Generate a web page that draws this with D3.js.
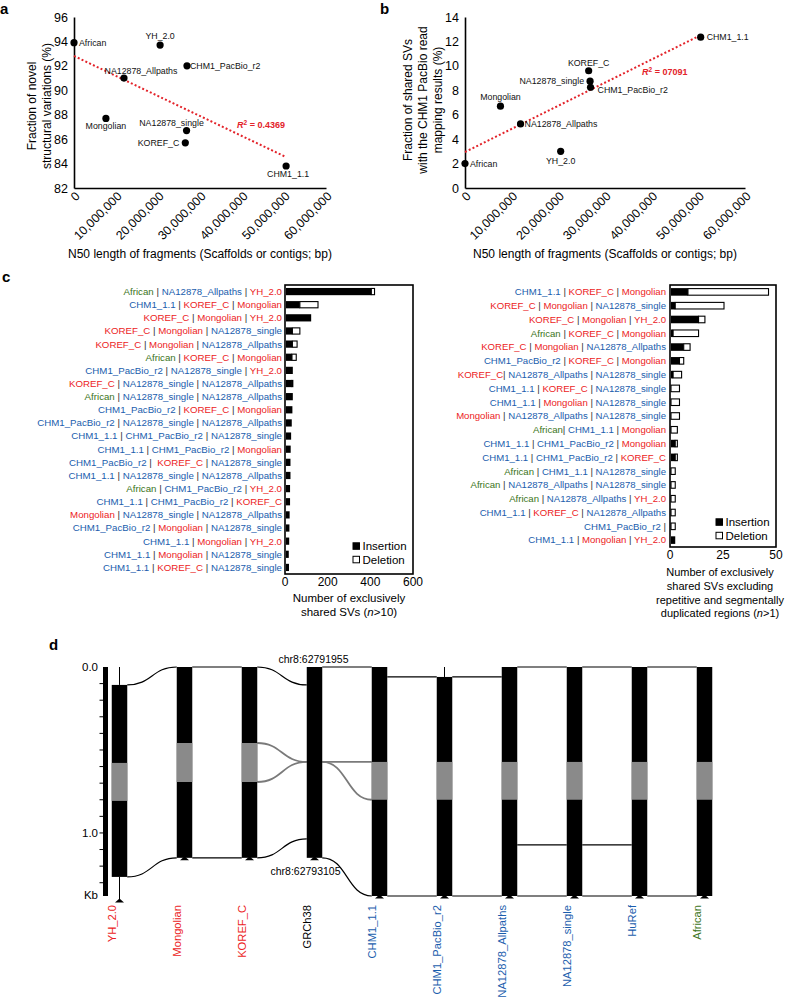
<!DOCTYPE html>
<html><head><meta charset="utf-8">
<script src="https://cdn.jsdelivr.net/npm/d3@7"></script>
<style>
body{margin:0;background:#fff;}
svg{font-family:"Liberation Sans",Arial,Helvetica,sans-serif;}
text{white-space:pre;}
</style></head><body>
<svg id="fig" width="788" height="999"></svg>
<script>
// ---------------- DATA ----------------
// panels a & b
const assemblies = ["African","YH_2.0","CHM1_PacBio_r2","NA12878_Allpaths","Mongolian","NA12878_single","KOREF_C","CHM1_1.1"];
const n50Length = [0, 20.5e6, 26.9e6, 11.9e6, 7.6e6, 26.8e6, 26.5e6, 50.5e6];
const novelSVFraction = [93.9, 93.7, 92.0, 91.0, 87.7, 86.7, 85.7, 83.8];
const sharedSVFraction = [2.0, 3.0, 8.25, 5.25, 6.7, 8.75, 9.6, 12.35];
const n50Ticks = [0, 1e7, 2e7, 3e7, 4e7, 5e7, 6e7];
const novelTicks = [82, 84, 86, 88, 90, 92, 94, 96];
const sharedTicks = [0, 2, 4, 6, 8, 10, 12, 14];
const r2TextA = "0.4369";
const r2TextB = "07091";

// panel c (left)
const combosAll = [
 "African | NA12878_Allpaths | YH_2.0",
 "CHM1_1.1 | KOREF_C | Mongolian",
 "KOREF_C | Mongolian | YH_2.0",
 "KOREF_C | Mongolian | NA12878_single",
 "KOREF_C | Mongolian | NA12878_Allpaths",
 "African | KOREF_C | Mongolian",
 "CHM1_PacBio_r2 | NA12878_single | YH_2.0",
 "KOREF_C | NA12878_single | NA12878_Allpaths",
 "African | NA12878_single | NA12878_Allpaths",
 "CHM1_PacBio_r2 | KOREF_C | Mongolian",
 "CHM1_PacBio_r2 | NA12878_single | NA12878_Allpaths",
 "CHM1_1.1 | CHM1_PacBio_r2 | NA12878_single",
 "CHM1_1.1 | CHM1_PacBio_r2 | Mongolian",
 "CHM1_PacBio_r2 |  KOREF_C | NA12878_single",
 "CHM1_1.1 | NA12878_single | NA12878_Allpaths",
 "African | CHM1_PacBio_r2 | YH_2.0",
 "CHM1_1.1 | CHM1_PacBio_r2 | KOREF_C",
 "Mongolian | NA12878_single | NA12878_Allpaths",
 "CHM1_PacBio_r2 | Mongolian | NA12878_single",
 "CHM1_1.1 | Mongolian | YH_2.0",
 "CHM1_1.1 | Mongolian | NA12878_single",
 "CHM1_1.1 | KOREF_C | NA12878_single"
];
const insAll = [400, 65, 118, 30, 30, 28, 32, 28, 32, 30, 27, 24, 22, 21, 21, 19, 19, 17, 16, 15, 13, 14];
const delAll = [15, 85, 0, 35, 22, 20, 0, 4, 0, 0, 0, 0, 0, 0, 0, 0, 0, 0, 0, 0, 0, 0];
const ticksAll = [0, 200, 400, 600];

// panel c (right)
const combosUnique = [
 "CHM1_1.1 | KOREF_C | Mongolian",
 "KOREF_C | Mongolian | NA12878_single",
 "KOREF_C | Mongolian | YH_2.0",
 "African | KOREF_C | Mongolian",
 "KOREF_C | Mongolian | NA12878_Allpaths",
 "CHM1_PacBio_r2 | KOREF_C | Mongolian",
 "KOREF_C| NA12878_Allpaths | NA12878_single",
 "CHM1_1.1 | KOREF_C | NA12878_single",
 "CHM1_1.1 | Mongolian | NA12878_single",
 "Mongolian | NA12878_Allpaths | NA12878_single",
 "African| CHM1_1.1 | Mongolian",
 "CHM1_1.1 | CHM1_PacBio_r2 | Mongolian",
 "CHM1_1.1 | CHM1_PacBio_r2 | KOREF_C",
 "African | CHM1_1.1 | NA12878_single",
 "African | NA12878_Allpaths | NA12878_single",
 "African | NA12878_Allpaths | YH_2.0",
 "CHM1_1.1 | KOREF_C | NA12878_Allpaths",
 "CHM1_PacBio_r2 |",
 "CHM1_1.1 | Mongolian | YH_2.0"
];
const insUnique = [8, 2, 13, 1, 6, 4, 1, 0, 0, 0, 0, 2, 2, 0, 0, 0, 0, 0, 2];
const delUnique = [38, 23, 3, 12, 3, 2, 4, 4, 4, 4, 3, 1, 1, 2, 2, 2, 2, 2, 0];
const ticksUnique = [0, 25, 50];

// panel d
const tracks = ["YH_2.0","Mongolian","KOREF_C","GRCh38","CHM1_1.1","CHM1_PacBio_r2","NA12878_Allpaths","NA12878_single","HuRef","African"];
const trackStartKb = [0.108, 0, 0, 0, 0, 0.06, 0, 0, 0, 0];
const trackEndKb   = [1.265, 1.15, 1.15, 1.15, 1.38, 1.38, 1.38, 1.38, 1.38, 1.38];
const grayStartKb  = [0.578, 0.458, 0.458, null, 0.572, 0.572, 0.572, 0.572, 0.572, 0.572];
const grayEndKb    = [0.807, 0.693, 0.693, null, 0.80, 0.80, 0.80, 0.80, 0.80, 0.80];
const leadTopKb    = [0, null, null, null, null, 0, null, null, null, null];
const leadBottomKb = [1.404, null, null, null, null, null, null, null, null, null];
const linkFrom   = ["YH_2.0","Mongolian","KOREF_C","GRCh38","CHM1_1.1","CHM1_PacBio_r2","NA12878_Allpaths","NA12878_single","HuRef",
                    "KOREF_C","KOREF_C","GRCh38","GRCh38",
                    "YH_2.0","Mongolian","KOREF_C","GRCh38","CHM1_1.1","CHM1_PacBio_r2","NA12878_Allpaths","NA12878_single","HuRef",
                    "NA12878_Allpaths","NA12878_single"];
const linkFromKb = [0.108, 0, 0, 0, 0.06, 0.06, 0, 0, 0,
                    0.458, 0.693, 0.572, 0.572,
                    1.265, 1.15, 1.15, 1.15, 1.38, 1.38, 1.38, 1.38, 1.38,
                    1.072, 1.072];
const linkTo     = ["Mongolian","KOREF_C","GRCh38","CHM1_1.1","CHM1_PacBio_r2","NA12878_Allpaths","NA12878_single","HuRef","African",
                    "GRCh38","GRCh38","CHM1_1.1","CHM1_1.1",
                    "Mongolian","KOREF_C","GRCh38","CHM1_1.1","CHM1_PacBio_r2","NA12878_Allpaths","NA12878_single","HuRef","African",
                    "NA12878_single","HuRef"];
const linkToKb   = [0, 0, 0.108, 0, 0.06, 0.06, 0, 0, 0,
                    0.572, 0.572, 0.572, 0.80,
                    1.15, 1.15, 1.036, 1.38, 1.38, 1.38, 1.38, 1.38, 1.38,
                    1.072, 1.072];
const linkGray   = [0,0,0,0,0,0,0,0,0, 1,1,1,1, 0,0,0,0,0,0,0,0,0, 0,0];
const kbTicks = [0, 1.0];
const kbMinorTicks = [0.1,0.2,0.3,0.4,0.5,0.6,0.7,0.8,0.9,1.0,1.1,1.2,1.3];

// ---------------- STYLE ----------------
const FONT = "'Liberation Sans', Arial, Helvetica, sans-serif";
const RED = "#ec1c24", BLUE = "#1a5dad", GREEN = "#3b7420", TREND = "#e3232a";
const nameColor = n => {
  if (["YH_2.0","KOREF_C","Mongolian"].includes(n)) return RED;
  if (n === "African") return GREEN;
  if (n === "GRCh38") return "#000";
  return BLUE;
};

const svg = d3.select("#fig");
svg.append("rect").attr("width",788).attr("height",999).attr("fill","#fff");

function panelLetter(t, x, y){
  svg.append("text").attr("x",x).attr("y",y).attr("font-size",15).attr("font-weight","bold").text(t);
}

function linreg(xs, ys){
  const mx = d3.mean(xs), my = d3.mean(ys);
  let sxy = 0, sxx = 0;
  xs.forEach((x,i)=>{ sxy += (x-mx)*(ys[i]-my); sxx += (x-mx)*(x-mx); });
  const b = sxy/sxx; return {a: my - b*mx, b};
}

function scatter(cfg){
  const g = svg.append("g");
  const x = d3.scaleLinear().domain([0, 6e7]).range(cfg.xr);
  const y = d3.scaleLinear().domain(d3.extent(cfg.yticks)).range([188, 17]);
  const ya = g.append("g").attr("transform",`translate(${cfg.xr[0]},0)`)
    .call(d3.axisLeft(y).tickValues(cfg.yticks).tickSize(0).tickPadding(6));
  ya.attr("font-family",FONT).attr("font-size",12.5);
  ya.select(".domain").attr("stroke","#000").attr("stroke-width",1.6);
  ya.selectAll("text").attr("fill","#000");
  const xa = g.append("g").attr("transform","translate(0,188)")
    .call(d3.axisBottom(x).tickValues(n50Ticks).tickSize(0).tickFormat(d3.format(",")));
  xa.attr("font-family",FONT).attr("font-size",12.3);
  xa.select(".domain").attr("stroke","#000").attr("stroke-width",1.6);
  xa.selectAll("text").attr("x",0).attr("y",0).attr("dy",0)
    .attr("text-anchor","end").attr("fill","#000")
    .attr("transform","translate(6,9) rotate(-45)");
  // trend
  const fit = linreg(n50Length, cfg.vals);
  const xmax = d3.max(n50Length);
  g.append("path")
    .attr("d", d3.line()([[x(0), y(fit.a)], [x(xmax), y(fit.a + fit.b*xmax)]]))
    .attr("stroke",TREND).attr("stroke-width",2).attr("stroke-dasharray","2,2.2").attr("fill","none");
  // points
  g.selectAll("circle.pt").data(assemblies).join("circle")
    .attr("cx",(d,i)=>x(n50Length[i])).attr("cy",(d,i)=>y(cfg.vals[i])).attr("r",3.6).attr("fill","#000");
  g.selectAll("text.lab").data(assemblies).join("text")
    .attr("x",(d,i)=>x(n50Length[i]) + cfg.place[d][0])
    .attr("y",(d,i)=>y(cfg.vals[i]) + cfg.place[d][1])
    .attr("dy","0.35em").attr("text-anchor",d=>cfg.place[d][2])
    .attr("font-size",8.8).attr("fill","#111").text(d=>d);
  // R2
  const r = g.append("text").attr("x",cfg.r2pos[0]).attr("y",cfg.r2pos[1]).attr("dy","0.35em")
    .attr("font-size",9).attr("font-weight","bold").attr("fill",TREND);
  r.append("tspan").attr("font-style","italic").text("R");
  r.append("tspan").attr("font-size",6.5).attr("dy","-0.45em").text("2");
  r.append("tspan").attr("dy","0.3em").text(" = " + cfg.r2);
  // titles
  g.append("text").attr("x",(cfg.xr[0]+cfg.xr[1])/2).attr("y",258).attr("text-anchor","middle")
    .attr("font-size",12).text("N50 length of fragments (Scaffolds or contigs; bp)");
  cfg.ytitle.forEach((t,i)=>{
    g.append("text").attr("transform",`translate(${cfg.ytx[i]},${cfg.tyc}) rotate(-90)`)
      .attr("text-anchor","middle").attr("dy","0.35em").attr("font-size",12).text(t);
  });
}

panelLetter("a", 0, 14);
scatter({
  xr:[74, 326], yticks: novelTicks, vals: novelSVFraction, r2: r2TextA, r2pos:[237,125],
  ytitle:["Fraction of novel","structural variations (%)"], ytx:[32,47], tyc:106,
  place:{
    "African":[5,0,"start"], "YH_2.0":[0,-9,"middle"], "CHM1_PacBio_r2":[3,0,"start"],
    "NA12878_Allpaths":[17,-7,"middle"], "Mongolian":[0,8,"middle"], "NA12878_single":[-15,-8,"middle"],
    "KOREF_C":[-6,0,"end"], "CHM1_1.1":[2,8,"middle"]
  }
});
panelLetter("b", 380, 14);
scatter({
  xr:[465, 745], yticks: sharedTicks, vals: sharedSVFraction, r2: r2TextB, r2pos:[642,72],
  ytitle:["Fraction of shared SVs","with the CHM1 PacBio read","mapping results (%)"], ytx:[408,423,438], tyc:100,
  place:{
    "African":[5,0,"start"], "YH_2.0":[0,10,"middle"], "CHM1_PacBio_r2":[7,3,"start"],
    "NA12878_Allpaths":[4,0,"start"], "Mongolian":[0,-9,"middle"], "NA12878_single":[-6,0,"end"],
    "KOREF_C":[0,-8,"middle"], "CHM1_1.1":[6,0,"start"]
  }
});

// ---------------- panel c ----------------
function colouredLabel(sel, str){
  str.split(/(\|)/).forEach(p=>{
    if (p === "|") { sel.append("tspan").attr("fill","#333").text("|"); return; }
    const m = p.match(/^(\s*)(.*?)(\s*)$/);
    if (m[1]) sel.append("tspan").text(m[1]);
    if (m[2]) sel.append("tspan").attr("fill",nameColor(m[2])).text(m[2]);
    if (m[3]) sel.append("tspan").text(m[3]);
  });
}

function barPanel(cfg){
  const g = svg.append("g");
  const n = cfg.combos.length;
  const x = d3.scaleLinear().domain(d3.extent(cfg.ticks)).range(cfg.xr);
  const y = d3.scaleBand().domain(d3.range(n)).range(cfg.yr).paddingInner(0.45).paddingOuter(0.225);
  // bars
  g.selectAll("rect.ins").data(d3.range(n)).join("rect")
    .attr("x",x(0)+1).attr("y",i=>y(i)).attr("height",y.bandwidth())
    .attr("width",i=>Math.max(0,x(cfg.ins[i])-x(0))).attr("fill","#000");
  g.selectAll("rect.del").data(d3.range(n).filter(i=>cfg.del[i]>0)).join("rect")
    .attr("x",i=>x(cfg.ins[i])+1).attr("y",i=>y(i)+0.5).attr("height",y.bandwidth()-1)
    .attr("width",i=>x(cfg.ins[i]+cfg.del[i])-x(cfg.ins[i])).attr("fill","#fff").attr("stroke","#000").attr("stroke-width",1.1);
  // frame
  g.append("rect").attr("x",cfg.xr[0]).attr("y",cfg.yr[0]).attr("width",cfg.xr[1]-cfg.xr[0]).attr("height",cfg.yr[1]-cfg.yr[0])
    .attr("fill","none").attr("stroke","#000").attr("stroke-width",1.6);
  // labels
  g.selectAll("text.row").data(d3.range(n)).join("text")
    .attr("x",cfg.labelX).attr("y",i=>y(i)+y.bandwidth()/2).attr("dy","0.35em")
    .attr("text-anchor","end").attr("font-size",cfg.labelSize)
    .each(function(i){ colouredLabel(d3.select(this), cfg.combos[i]); });
  // ticks
  g.selectAll("text.tk").data(cfg.ticks).join("text")
    .attr("x",d=>x(d)).attr("y",cfg.yr[1]+3).attr("dy","0.71em").attr("text-anchor","middle")
    .attr("font-size",12).text(d=>d);
  // legend
  [["Insertion","#000"],["Deletion","#fff"]].forEach((l,k)=>{
    g.append("rect").attr("x",cfg.leg[0]).attr("y",cfg.leg[1]+k*13.5-3.2).attr("width",6.5).attr("height",6.5)
      .attr("fill",l[1]).attr("stroke","#000").attr("stroke-width",1);
    g.append("text").attr("x",cfg.leg[0]+9.5).attr("y",cfg.leg[1]+k*13.5).attr("dy","0.35em").attr("font-size",11.5).text(l[0]);
  });
  // title
  cfg.title.forEach((t,k)=>{
    const tx = g.append("text").attr("x",cfg.titleX).attr("y",cfg.titleY+k*13.8)
      .attr("text-anchor","middle").attr("font-size",cfg.titleSize);
    const m = t.match(/^(.*\()n(.*)$/);
    if (m){ tx.append("tspan").text(m[1]); tx.append("tspan").attr("font-style","italic").text("n"); tx.append("tspan").text(m[2]); }
    else tx.text(t);
  });
}

panelLetter("c", 2, 282);
barPanel({combos:combosAll, ins:insAll, del:delAll, ticks:ticksAll, xr:[285,413], yr:[285,574],
  labelX:282, labelSize:9.7, leg:[353,546], title:["Number of exclusively","shared SVs (n>10)"],
  titleX:349, titleY:602, titleSize:11.5});
barPanel({combos:combosUnique, ins:insUnique, del:delUnique, ticks:ticksUnique, xr:[670,776], yr:[285,547],
  labelX:666, labelSize:9.6, leg:[716,522], title:["Number of exclusively","shared SVs excluding","repetitive and segmentally","duplicated regions (n>1)"],
  titleX:720, titleY:576, titleSize:11});

// ---------------- panel d ----------------
panelLetter("d", 49, 650);
const dY = d3.scaleLinear().domain([0, 1.38]).range([667, 896]);
const dX = d3.scalePoint().domain(tracks).range([119.5, 704.5]);
const TW = 15.5;
const gd = svg.append("g");
// axis bar
gd.append("rect").attr("x",103).attr("y",dY(0)).attr("width",5).attr("height",dY(1.38)-dY(0)).attr("fill","#000");
gd.selectAll("line.mt").data(kbMinorTicks).join("line")
  .attr("x1",99.5).attr("x2",104).attr("y1",d=>dY(d)).attr("y2",d=>dY(d)).attr("stroke","#000").attr("stroke-width",1);
gd.selectAll("text.kt").data(kbTicks).join("text")
  .attr("x",98).attr("y",d=>dY(d)).attr("dy","0.35em").attr("text-anchor","end").attr("font-size",11.5)
  .text(d=>d3.format(".1f")(d));
gd.append("text").attr("x",98).attr("y",dY(1.375)).attr("dy","0.35em").attr("text-anchor","end").attr("font-size",11.5).text("Kb");

// links
linkFrom.forEach((f,i)=>{
  const x1 = dX(f)+TW/2, x2 = dX(linkTo[i])-TW/2;
  const y1 = dY(linkFromKb[i]), y2 = dY(linkToKb[i]);
  const d = d3.linkHorizontal()({source:[x1,y1], target:[x2,y2]});
  gd.append("path").attr("d",d).attr("fill","none")
    .attr("stroke", linkGray[i] ? "#7a7a7a" : "#000").attr("stroke-width", linkGray[i] ? 1.8 : 1.2);
});
// lead lines
tracks.forEach((t,i)=>{
  if (leadTopKb[i] !== null) gd.append("line").attr("x1",dX(t)).attr("x2",dX(t)).attr("y1",dY(leadTopKb[i])).attr("y2",dY(trackStartKb[i])).attr("stroke","#000").attr("stroke-width",1);
  if (leadBottomKb[i] !== null) gd.append("line").attr("x1",dX(t)).attr("x2",dX(t)).attr("y1",dY(trackEndKb[i])).attr("y2",dY(leadBottomKb[i])).attr("stroke","#000").attr("stroke-width",1);
});
// tracks
gd.selectAll("rect.tr").data(tracks).join("rect")
  .attr("x",d=>dX(d)-TW/2).attr("width",TW)
  .attr("y",(d,i)=>dY(trackStartKb[i])).attr("height",(d,i)=>dY(trackEndKb[i])-dY(trackStartKb[i])).attr("fill","#000");
gd.selectAll("rect.gr").data(tracks.filter((d,i)=>grayStartKb[i]!==null)).join("rect")
  .attr("x",d=>dX(d)-TW/2).attr("width",TW)
  .attr("y",d=>dY(grayStartKb[tracks.indexOf(d)]))
  .attr("height",d=>dY(grayEndKb[tracks.indexOf(d)])-dY(grayStartKb[tracks.indexOf(d)])).attr("fill","#8a8a8a");
// triangles
tracks.forEach((t,i)=>{
  const yb = dY(leadBottomKb[i] !== null ? leadBottomKb[i] : trackEndKb[i]);
  const cx = dX(t);
  gd.append("path").attr("d",`M${cx-4.5},${yb+2.5} L${cx+4.5},${yb+2.5} L${cx},${yb-1.5} Z`).attr("fill","#000");
});
// coordinate labels
gd.append("text").attr("x",dX("GRCh38")-1).attr("y",dY(0)-8).attr("dy","0.35em").attr("text-anchor","middle").attr("font-size",10.5).text("chr8:62791955");
gd.append("text").attr("x",dX("GRCh38")-9).attr("y",dY(1.233)).attr("dy","0.35em").attr("text-anchor","middle").attr("font-size",10.5).text("chr8:62793105");
// track names
gd.selectAll("text.tn").data(tracks).join("text")
  .attr("transform",d=>`translate(${dX(d)-4},905) rotate(-90)`)
  .attr("text-anchor","end").attr("font-size",11.2).attr("fill",d=>nameColor(d)).text(d=>d);
</script>
</body></html>
